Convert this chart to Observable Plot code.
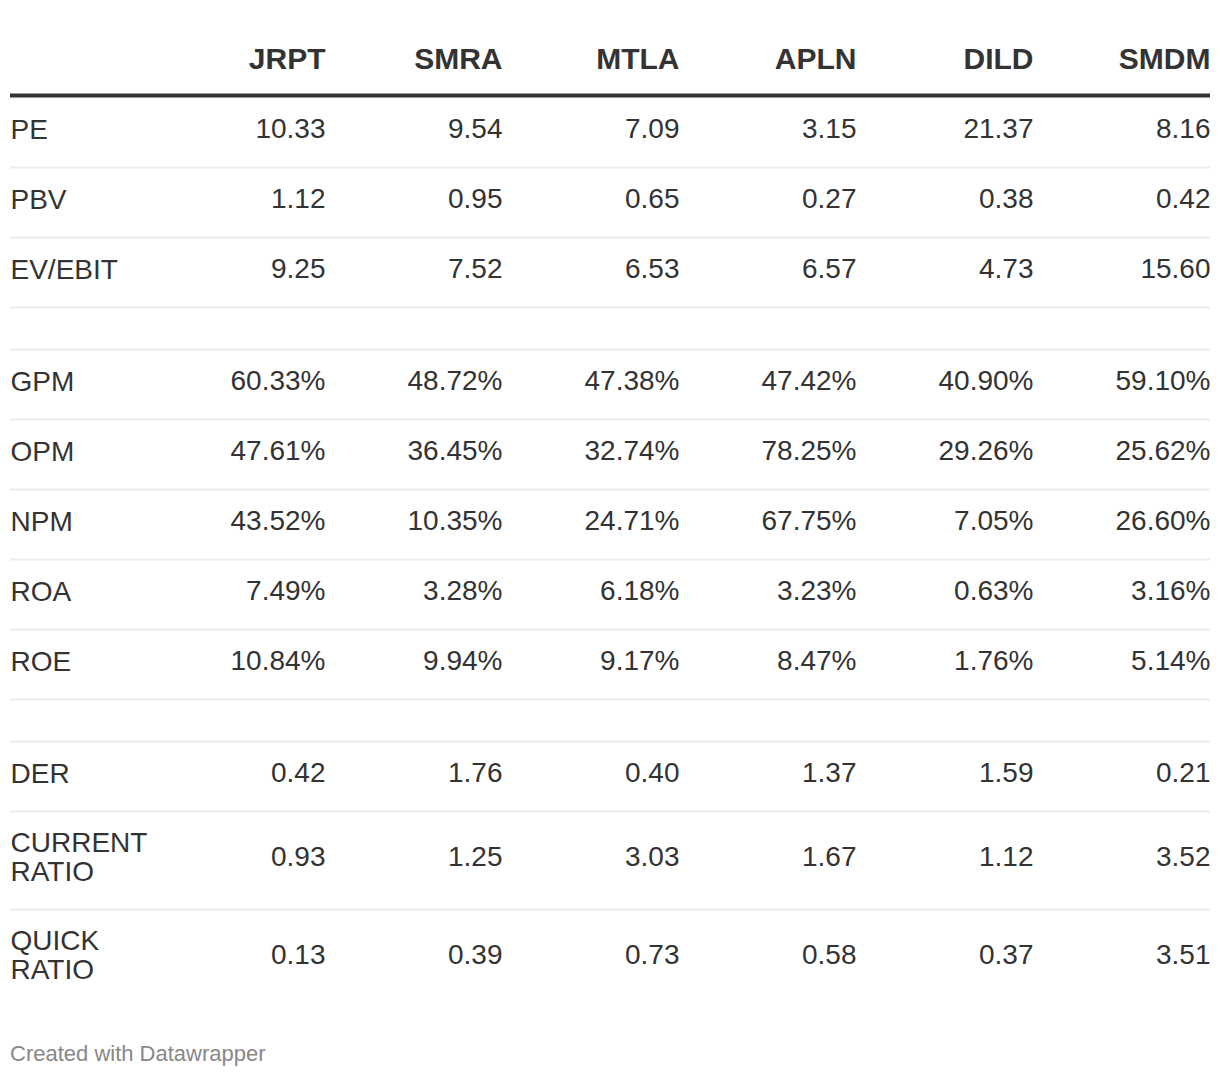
<!DOCTYPE html>
<html>
<head>
<meta charset="utf-8">
<script src="https://cdn.jsdelivr.net/npm/d3@7"></script>
<script src="https://cdn.jsdelivr.net/npm/@observablehq/plot@0.6"></script>
<style>
  html, body { margin: 0; padding: 0; background: #fff; }
  body { width: 1220px; font-family: "Liberation Sans", Arial, Helvetica, sans-serif; }
  #footer { margin-top: 9px; padding-left: 10px; font-size: 22px; line-height: 30px; color: #888; }
</style>
</head>
<body>
<div id="chart"></div>
<div id="footer">Created with Datawrapper</div>
<script>
// ---- data ----
const tickers = ["JRPT", "SMRA", "MTLA", "APLN", "DILD", "SMDM"];
const metrics = ["PE", "PBV", "EV/EBIT", "GPM", "OPM", "NPM", "ROA", "ROE", "DER", "CURRENT RATIO", "QUICK RATIO"];
const percentMetrics = ["GPM", "OPM", "NPM", "ROA", "ROE"];
const groupStarts = ["GPM", "DER"];

const JRPT = [10.33, 1.12, 9.25, 60.33, 47.61, 43.52, 7.49, 10.84, 0.42, 0.93, 0.13];
const SMRA = [9.54, 0.95, 7.52, 48.72, 36.45, 10.35, 3.28, 9.94, 1.76, 1.25, 0.39];
const MTLA = [7.09, 0.65, 6.53, 47.38, 32.74, 24.71, 6.18, 9.17, 0.40, 3.03, 0.73];
const APLN = [3.15, 0.27, 6.57, 47.42, 78.25, 67.75, 3.23, 8.47, 1.37, 1.67, 0.58];
const DILD = [21.37, 0.38, 4.73, 40.90, 29.26, 7.05, 0.63, 1.76, 1.59, 1.12, 0.37];
const SMDM = [8.16, 0.42, 15.60, 59.10, 25.62, 26.60, 3.16, 5.14, 0.21, 3.52, 3.51];

const seriesByTicker = { JRPT, SMRA, MTLA, APLN, DILD, SMDM };

// ---- layout (row units) ----
const rows = [];
const spacers = [];
let u = 0;
for (const m of metrics) {
  if (groupStarts.includes(m)) { spacers.push({ top: u, bottom: u + 0.6 }); u += 0.6; }
  const h = m.includes(" ") ? 1.4 : 1;
  rows.push({ metric: m, label: m.replace(" ", "\n"), top: u, bottom: u + h, mid: u + h / 2 - 0.045 });
  u += h;
}
const total = u;
const separators = [...rows.slice(0, -1), ...spacers];

const cells = [];
for (const t of tickers) {
  seriesByTicker[t].forEach((v, i) => {
    const m = metrics[i];
    const row = rows[i];
    cells.push({ ticker: t, mid: row.mid, text: v.toFixed(2) + (percentMetrics.includes(m) ? "%" : "") });
  });
}

const font = "'Liberation Sans', Arial, Helvetica, sans-serif";

const chart = Plot.plot({
  width: 1220,
  height: 1030,
  marginLeft: 10,
  marginRight: 10,
  marginTop: 0,
  marginBottom: 0,
  x: { type: "point", domain: tickers, range: [325, 1210], padding: 0, axis: null },
  y: { domain: [0, total], range: [97, 97 + total * 70], axis: null },
  style: { fontFamily: font, color: "#333", background: "#fff", overflow: "visible" },
  marks: [
    Plot.ruleY(separators, { y: "bottom", stroke: "#ebebeb", strokeWidth: 2 }),
    Plot.ruleY([0], { stroke: "#333", strokeWidth: 4, dy: -2 }),
    Plot.text(tickers, { x: d => d, y: () => -0.55, text: d => d, textAnchor: "end", fontSize: 30, fontWeight: "bold", fill: "#333" }),
    Plot.text(rows, { frameAnchor: "left", y: "mid", text: "label", textAnchor: "start", fontSize: 28, lineHeight: 1.05, fill: "#333" }),
    Plot.text(cells, { x: "ticker", y: "mid", text: "text", textAnchor: "end", fontSize: 28, fill: "#333" })
  ]
});
document.getElementById("chart").appendChild(chart);
</script>
</body>
</html>
